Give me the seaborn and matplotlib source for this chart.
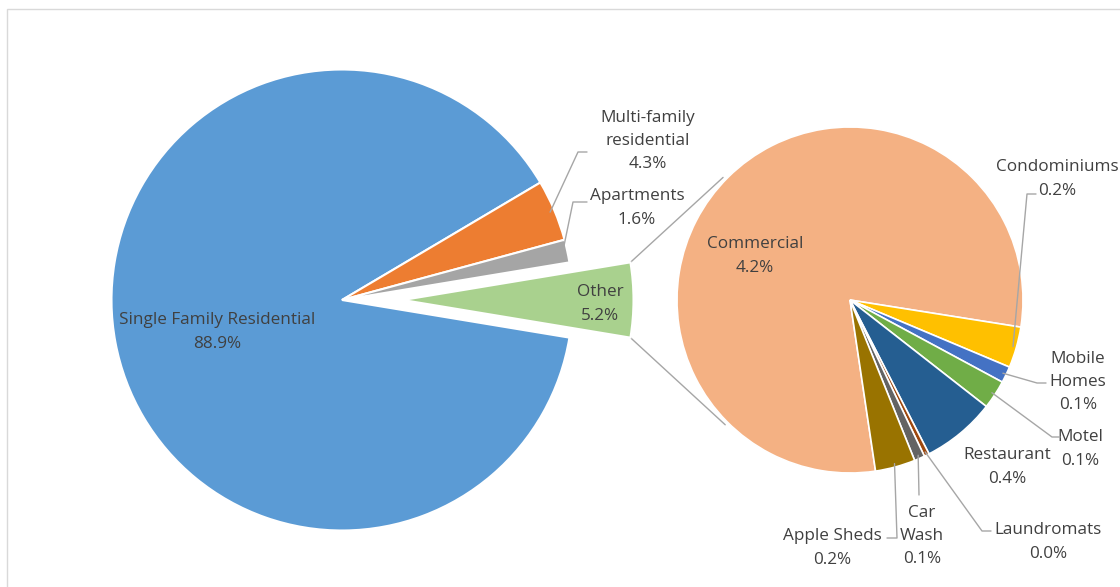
import numpy as np
import matplotlib
matplotlib.use("Agg")
import matplotlib.pyplot as plt
import seaborn as sns
from matplotlib.patches import Rectangle

# ---------------- data ----------------
main_labels = ["Single Family Residential", "Multi-family\nresidential", "Apartments", "Other"]
main_values = [88.9, 4.3, 1.6]          # "Other" = sum of the breakdown below
sub_labels = ["Commercial", "Condominiums", "Mobile\nHomes", "Motel",
              "Restaurant", "Laundromats", "Car\nWash", "Apple Sheds"]
sub_values = [4.17, 0.20, 0.08, 0.14, 0.36, 0.025, 0.051, 0.195]

main_colors = ["#5B9BD5", "#ED7D31", "#A5A5A5", "#A9D18E"]
sub_colors = ["#F4B183", "#FFC000", "#4472C4", "#70AD47",
              "#255E91", "#9E480E", "#636363", "#997300"]

# ---------------- style ----------------
sns.set_theme(style="white")
plt.rcParams["font.family"] = ["Open Sans", "DejaVu Sans"]
TXT = "#404040"
LINE = "#A6A6A6"
FS = 12.3
LS = 1.6

W, H = 1120, 587
fig = plt.figure(figsize=(W / 100, H / 100), dpi=100)
ax = fig.add_axes([0, 0, 1, 1])


def P(x, y):
    """pixel (top-left origin) -> data coords (y up)"""
    return (x, H - y)


main_all = main_values + [sum(sub_values)]
total = sum(main_all)
other_deg = main_all[-1] / total * 360

main_c = P(342, 300)
main_r = 230.5
wm, _ = ax.pie(main_all, colors=main_colors, center=main_c, radius=main_r,
               startangle=-other_deg / 2, counterclock=False, frame=True,
               wedgeprops=dict(edgecolor="white", linewidth=1.5))

# explode "Other"
ow = wm[-1]
om = np.deg2rad(0.5 * (ow.theta1 + ow.theta2))
off = 61
ow.set_center((main_c[0] + off * np.cos(om), main_c[1] + off * np.sin(om)))

sub_c = P(850, 300)
sub_r = 173
ws, _ = ax.pie(sub_values, colors=sub_colors, center=sub_c, radius=sub_r,
               startangle=-81.5, counterclock=False, frame=True,
               wedgeprops=dict(edgecolor="white", linewidth=1.2))

ax.set_xlim(0, W)
ax.set_ylim(0, H)
ax.set_aspect("equal")
ax.axis("off")

# connector lines between pies
oc = ow.center
for th, sa in [(ow.theta2, 136), (ow.theta1, 225)]:
    p0 = (oc[0] + main_r * np.cos(np.deg2rad(th)), oc[1] + main_r * np.sin(np.deg2rad(th)))
    p1 = (sub_c[0] + sub_r * 1.02 * np.cos(np.deg2rad(sa)), sub_c[1] + sub_r * 1.02 * np.sin(np.deg2rad(sa)))
    ax.plot([p0[0], p1[0]], [p0[1], p1[1]], color=LINE, lw=1.0, zorder=0)


def rim(w, scale=1.0):
    t = np.deg2rad(0.5 * (w.theta1 + w.theta2))
    c = w.center
    return (c[0] + w.r * scale * np.cos(t), c[1] + w.r * scale * np.sin(t))


# label layout (pixel positions)
main_pos = [(217, 332), (648, 141), (637, 208), (600, 304)]
sub_pos = [(755, 256), (1057, 179), (1078, 382), (1080, 449),
           (1007, 467), (1048, 542), (922, 536), (832, 548)]

for lab, v, pos in zip(main_labels, main_all, main_pos):
    ax.text(*P(*pos), f"{lab}\n{v:.1f}%", ha="center", va="center",
            fontsize=FS, color=TXT, linespacing=LS, multialignment="center")
for lab, v, pos in zip(sub_labels, sub_values, sub_pos):
    ax.text(*P(*pos), f"{lab}\n{v:.1f}%", ha="center", va="center",
            fontsize=FS, color=TXT, linespacing=LS, multialignment="center",
            clip_on=False)

# leader lines: (wedge, [elbow points in pixels])
leaders = [
    (wm[1], [(578, 152), (587, 152)]),
    (wm[2], [(573, 202), (587, 202)]),
    (ws[1], [(1027, 194), (1036, 194)]),
    (ws[2], [(1037, 383), (1046, 383)]),
    (ws[3], [(1052, 437), (1060, 437)]),
    (ws[5], [(982, 531), (991, 531)]),
    (ws[6], [(919, 495)]),
    (ws[7], [(897, 538), (887, 538)]),
]
for w, pts in leaders:
    p0 = rim(w, 0.98)
    xs = [p0[0]] + [P(*p)[0] for p in pts]
    ys = [p0[1]] + [P(*p)[1] for p in pts]
    ax.plot(xs, ys, color=LINE, lw=1.0, zorder=3)

# chart frame
fig.patches.append(Rectangle((7 / W, -0.1), 1.2, (H - 9) / H + 0.1,
                             transform=fig.transFigure, fill=False,
                             edgecolor="#D9D9D9", linewidth=1.0))

fig.savefig("out.png", dpi=100)
